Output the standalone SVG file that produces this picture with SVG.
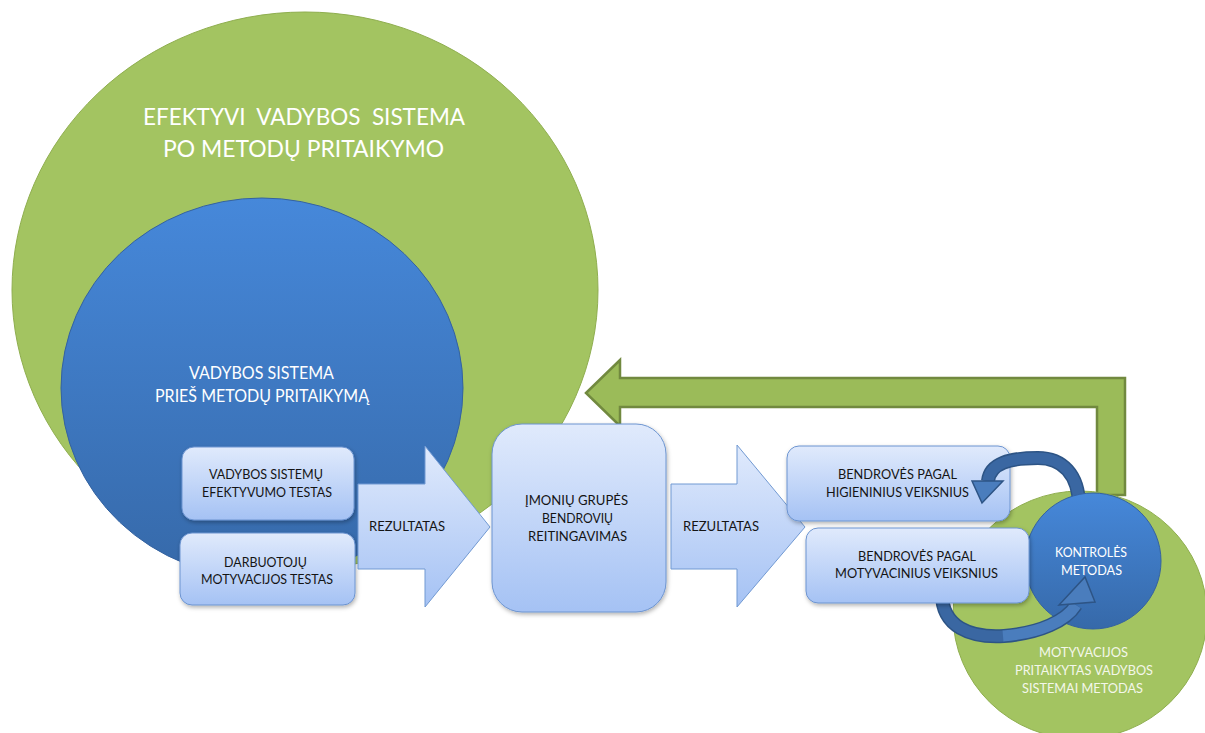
<svg xmlns="http://www.w3.org/2000/svg" width="1205" height="733" viewBox="0 0 1205 733">
  <defs>
    <linearGradient id="gBlue" x1="0" y1="0" x2="0" y2="1">
      <stop offset="0" stop-color="#4688da"/>
      <stop offset="1" stop-color="#3669a9"/>
    </linearGradient>
    <linearGradient id="gBox" x1="0" y1="0" x2="0" y2="1">
      <stop offset="0" stop-color="#e0eafc"/>
      <stop offset="1" stop-color="#a5c2f4"/>
    </linearGradient>
    <filter id="shadow" x="-10%" y="-10%" width="130%" height="140%">
      <feDropShadow dx="1" dy="2" stdDeviation="2" flood-color="#000" flood-opacity="0.3"/>
    </filter>
  </defs>
  <style>
    .green{fill:#a3c461;stroke:#8fae4f;stroke-width:1}
    .blue{fill:url(#gBlue);stroke:#3462a0;stroke-width:1}
    .box{fill:url(#gBox);stroke:#6c94d0;stroke-width:1;filter:url(#shadow)}
    .block{fill:url(#gBox);stroke:#7199d2;stroke-width:1}
    .t{font-family:Lato,"Liberation Sans",sans-serif;text-anchor:middle}
    .dk{fill:#141414;font-size:12.5px}
    .wh{fill:#ffffff}
    .pale{fill:#f3f7ea;font-size:12.5px}
    .rib-edge{fill:none;stroke:#2d5485;stroke-width:14}
    .rib-dark{fill:none;stroke:#3a67a2;stroke-width:11}
    .rib-light{fill:none;stroke:#4a7dbd;stroke-width:11}
    .head{fill:#4a7dbd;stroke:#2d5485;stroke-width:1.5;stroke-linejoin:miter}
  </style>

  <!-- outer circle: effective management system -->
  <g id="effective-system">
    <ellipse class="green" cx="305" cy="290" rx="293" ry="278"/>
    <text class="t wh" xml:space="preserve" x="304" y="125" font-size="24" textLength="322" lengthAdjust="spacingAndGlyphs">EFEKTYVI  VADYBOS  SISTEMA</text>
    <text class="t wh" x="303.5" y="157" font-size="24" textLength="281" lengthAdjust="spacingAndGlyphs">PO METODŲ PRITAIKYMO</text>
  </g>

  <!-- inner circle: system before the methods -->
  <g id="system-before">
    <ellipse class="blue" cx="262" cy="388" rx="201" ry="190"/>
    <text class="t wh" x="261.5" y="379" font-size="17" textLength="145" lengthAdjust="spacingAndGlyphs">VADYBOS SISTEMA</text>
    <text class="t wh" x="262" y="402" font-size="17" textLength="214" lengthAdjust="spacingAndGlyphs">PRIEŠ METODŲ PRITAIKYMĄ</text>
  </g>

  <g id="connectors">
    <!-- feedback arrow back to the outer circle -->
    <polygon points="586,393 620,360 620,378 1125,378 1125,495 1097,495 1097,407 620,407 620,426" fill="#9bbb59" stroke="#71893f" stroke-width="2.5" stroke-linejoin="miter"/>
  </g>

  <g id="method-circle">
    <ellipse class="green" cx="1080" cy="615" rx="127" ry="124"/>
    <text class="t pale" x="1083.5" y="657" textLength="89" lengthAdjust="spacingAndGlyphs">MOTYVACIJOS</text>
    <text class="t pale" x="1084" y="675" textLength="138" lengthAdjust="spacingAndGlyphs">PRITAIKYTAS VADYBOS</text>
    <text class="t pale" x="1082.5" y="693" textLength="121" lengthAdjust="spacingAndGlyphs">SISTEMAI METODAS</text>
  </g>

  <g id="efficiency-test">
    <rect class="box" x="182" y="447" width="172" height="73" rx="12"/>
    <text class="t dk" x="266" y="479" textLength="114" lengthAdjust="spacingAndGlyphs">VADYBOS SISTEMŲ</text>
    <text class="t dk" x="267" y="497" textLength="130" lengthAdjust="spacingAndGlyphs">EFEKTYVUMO TESTAS</text>
  </g>

  <g id="motivation-test">
    <rect class="box" x="180" y="533" width="175" height="72" rx="12"/>
    <text class="t dk" x="265.5" y="567" textLength="83" lengthAdjust="spacingAndGlyphs">DARBUOTOJŲ</text>
    <text class="t dk" x="267" y="584" textLength="132" lengthAdjust="spacingAndGlyphs">MOTYVACIJOS TESTAS</text>
  </g>

  <g id="result-1">
    <polygon class="block" points="358,484 425,484 425,446 490,527 425,607 425,569 358,569"/>
    <text class="t dk" x="407" y="531" textLength="76" lengthAdjust="spacingAndGlyphs">REZULTATAS</text>
  </g>

  <g id="rating">
    <rect class="box" x="492" y="424" width="174" height="188" rx="30"/>
    <text class="t dk" x="576.5" y="505" textLength="103" lengthAdjust="spacingAndGlyphs">ĮMONIŲ GRUPĖS</text>
    <text class="t dk" x="577.5" y="523" textLength="71" lengthAdjust="spacingAndGlyphs">BENDROVIŲ</text>
    <text class="t dk" x="577.5" y="541" textLength="99" lengthAdjust="spacingAndGlyphs">REITINGAVIMAS</text>
  </g>

  <g id="result-2">
    <polygon class="block" points="671,484 737,484 737,445 805,527 737,607 737,569 671,569"/>
    <text class="t dk" x="721" y="531" textLength="76" lengthAdjust="spacingAndGlyphs">REZULTATAS</text>
  </g>

  <g id="hygiene-factors">
    <rect class="box" x="787" y="446" width="223" height="75" rx="12"/>
    <text class="t dk" x="897.5" y="479" textLength="119" lengthAdjust="spacingAndGlyphs">BENDROVĖS PAGAL</text>
    <text class="t dk" x="897.5" y="497" textLength="143" lengthAdjust="spacingAndGlyphs">HIGIENINIUS VEIKSNIUS</text>
  </g>

  <!-- curved arrow from the control method up to the hygiene group -->
  <g id="loop-top">
    <path class="rib-edge" d="M1079,506 C1079,474 1062,458 1038,458 C1010,458 990,463 988,481"/>
    <path class="rib-dark" d="M1079,506 C1079,474 1062,458 1038,458 C1010,458 990,463 988,481"/>
    <polygon class="head" points="972,481 1003,481 982,503"/>
  </g>

  <g id="control-method">
    <circle class="blue" cx="1093" cy="561" r="68"/>
    <text class="t wh" x="1091" y="557" font-size="12.5" textLength="72" lengthAdjust="spacingAndGlyphs">KONTROLĖS</text>
    <text class="t wh" x="1091.5" y="575" font-size="12.5" textLength="61" lengthAdjust="spacingAndGlyphs">METODAS</text>
  </g>

  <!-- curved arrow from the motivation group back into the control method -->
  <g id="loop-bottom">
    <path class="rib-edge" d="M942,590 C940,628 972,638 1004,636 C1040,633 1066,621 1076,605"/>
    <path class="rib-dark" d="M942,590 C940,628 972,638 1004,636"/>
    <path class="rib-light" d="M1003,636 C1040,633 1066,621 1076,605"/>
    <polygon class="head" points="1059,605 1095,602 1085,577"/>
  </g>

  <g id="motivation-factors">
    <rect class="box" x="806" y="528" width="223" height="75" rx="12"/>
    <text class="t dk" x="917" y="561" textLength="118" lengthAdjust="spacingAndGlyphs">BENDROVĖS PAGAL</text>
    <text class="t dk" x="916.5" y="578" textLength="163" lengthAdjust="spacingAndGlyphs">MOTYVACINIUS VEIKSNIUS</text>
  </g>
</svg>
